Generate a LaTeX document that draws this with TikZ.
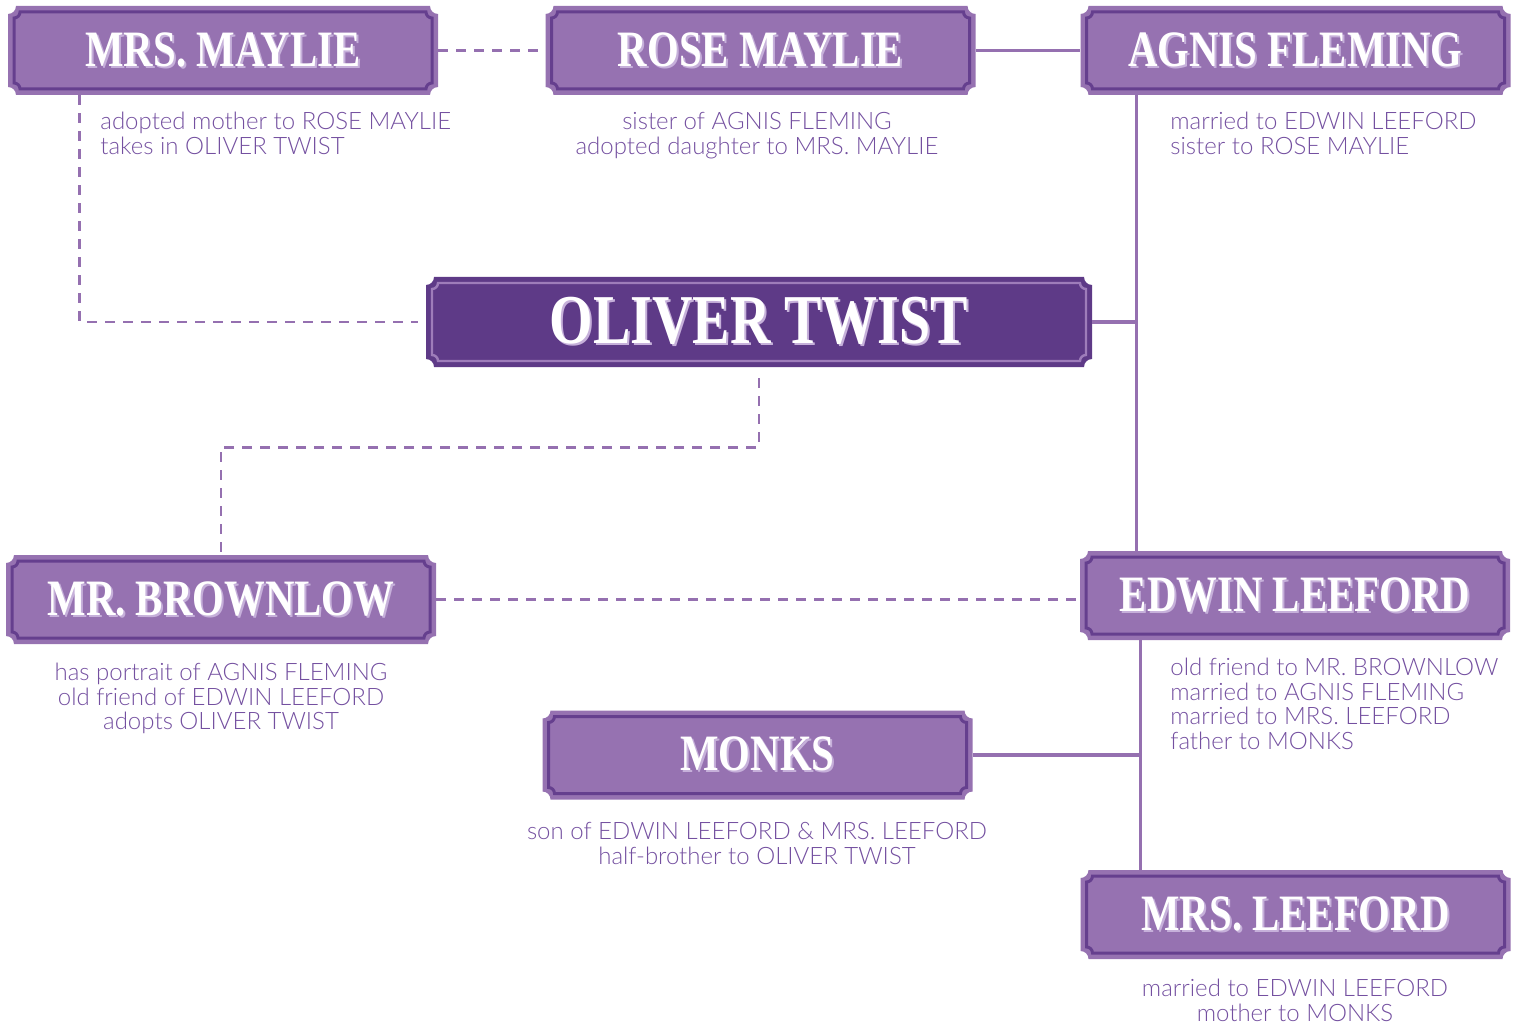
\documentclass[tikz,border=0pt]{standalone}
\usepackage{fontspec}
\setmainfont{Lato Light}
\newfontfamily\titlefont{Liberation Serif}[FakeStretch=0.8]
\usetikzlibrary{calc}
\definecolor{castfill}{HTML}{9672B1}
\definecolor{castline}{HTML}{653F8E}
\definecolor{maindark}{HTML}{5E3A87}
\definecolor{mainline}{HTML}{9E7DBA}
\definecolor{castshadow}{HTML}{C6B0DA}
\definecolor{linkcol}{HTML}{9570B0}
\definecolor{notecol}{HTML}{7450A0}
% notched outline inside a path picture: #1 inset, #2 notch radius
\newcommand{\notchpath}[2]{
  ([shift={(#1+#2,#1)}]path picture bounding box.south west)
  -- ([shift={(-#1-#2,#1)}]path picture bounding box.south east)
  arc[start angle=180,end angle=90,radius=#2]
  -- ([shift={(-#1,-#1-#2)}]path picture bounding box.north east)
  arc[start angle=270,end angle=180,radius=#2]
  -- ([shift={(#1+#2,-#1)}]path picture bounding box.north west)
  arc[start angle=0,end angle=-90,radius=#2]
  -- ([shift={(#1,#1+#2)}]path picture bounding box.south west)
  arc[start angle=90,end angle=0,radius=#2]
  -- cycle
}
\newcommand{\castname}[1]{\makebox[0pt][l]{\kern1pt\raisebox{-1pt}{\color{castshadow}#1}}#1}
\tikzset{
  cast-box/.style={
    minimum width=215pt, minimum height=44.5pt, inner sep=0pt,
    text=white, font=\titlefont\bfseries\fontsize{25.5}{25.5}\selectfont,
    path picture={
      \fill[castfill] \notchpath{0pt}{4pt};
      \draw[castline, line width=1.5pt] \notchpath{3pt}{3pt};
    }
  },
  cast-main/.style={
    cast-box, minimum width=333pt, minimum height=45pt,
    font=\titlefont\bfseries\fontsize{35}{35}\selectfont,
    path picture={
      \fill[maindark] \notchpath{0pt}{4pt};
      \draw[mainline, line width=1.2pt] \notchpath{3pt}{3pt};
    }
  },
  note/.style={
    inner sep=0pt, text=notecol, font=\fontsize{12}{12.25}\selectfont
  },
  link/.style={draw=linkcol, line width=1.6pt},
  link-dashed/.style={link, line width=1.3pt, dash pattern=on 5pt off 4pt}
}

\begin{document}
\begin{tikzpicture}[x=0.5pt, y=-0.5pt]
  \useasboundingbox (0,0) rectangle (1520,1027);
  % characters
  \node[cast-box]  (maylie)   at (223,50.5)    {\castname{MRS. MAYLIE}};
  \node[cast-box]  (rose)     at (760.5,50.5)  {\castname{ROSE MAYLIE}};
  \node[cast-box]  (agnis)    at (1295.5,50.5) {\castname{AGNIS FLEMING}};
  \node[cast-main] (oliver)   at (759,322)     {\castname{OLIVER TWIST}};
  \node[cast-box]  (brownlow) at (221,599.5)   {\castname{MR. BROWNLOW}};
  \node[cast-box]  (edwin)    at (1295,595.5)  {\castname{EDWIN LEEFORD}};
  \node[cast-box]  (monks)    at (757.5,755)   {\castname{MONKS}};
  \node[cast-box]  (leeford)  at (1295.5,914.5){\castname{MRS. LEEFORD}};
  % notes
  \node[note, anchor=north west, align=left] (maylie-note) at (100,112)
    {adopted mother to ROSE MAYLIE\\takes in OLIVER TWIST};
  \node[note, anchor=north, align=center] (rose-note) at (757,112)
    {sister of AGNIS FLEMING\\adopted daughter to MRS. MAYLIE};
  \node[note, anchor=north west, align=left] (agnis-note) at (1170,112)
    {married to EDWIN LEEFORD\\sister to ROSE MAYLIE};
  \node[note, anchor=north, align=center] (brownlow-note) at (221,663)
    {has portrait of AGNIS FLEMING\\old friend of EDWIN LEEFORD\\adopts OLIVER TWIST};
  \node[note, anchor=north west, align=left] (edwin-note) at (1170,658)
    {old friend to MR. BROWNLOW\\married to AGNIS FLEMING\\married to MRS. LEEFORD\\father to MONKS};
  \node[note, anchor=north, align=center] (monks-note) at (757,822)
    {son of EDWIN LEEFORD \& MRS. LEEFORD\\half-brother to OLIVER TWIST};
  \node[note, anchor=north, align=center] (leeford-note) at (1295,979)
    {married to EDWIN LEEFORD\\mother to MONKS};
  % ties
  \coordinate (spine-top) at ([xshift=28pt]agnis.south west);
  \coordinate (spine-low) at ([xshift=30.5pt]edwin.south west);
  \draw[link-dashed] (maylie.east) -- (rose.west);
  \draw[link] (rose.east) -- (agnis.west);
  \draw[link] (spine-top) -- (spine-top |- edwin.north);
  \draw[link] (oliver.east) -- (oliver.east -| spine-top);
  \draw[link-dashed] ([xshift=36pt]maylie.south west) |- ([xshift=-4pt]oliver.west);
  \draw[link-dashed] ([yshift=-5.5pt]oliver.south) -- ++(0,-34.5pt) -| (brownlow.north);
  \draw[link-dashed] (brownlow.east) -- (brownlow.east -| edwin.west);
  \draw[link] (spine-low) -- (spine-low |- leeford.north);
  \draw[link] (monks.east) -- (monks.east -| spine-low);
\end{tikzpicture}
\end{document}
